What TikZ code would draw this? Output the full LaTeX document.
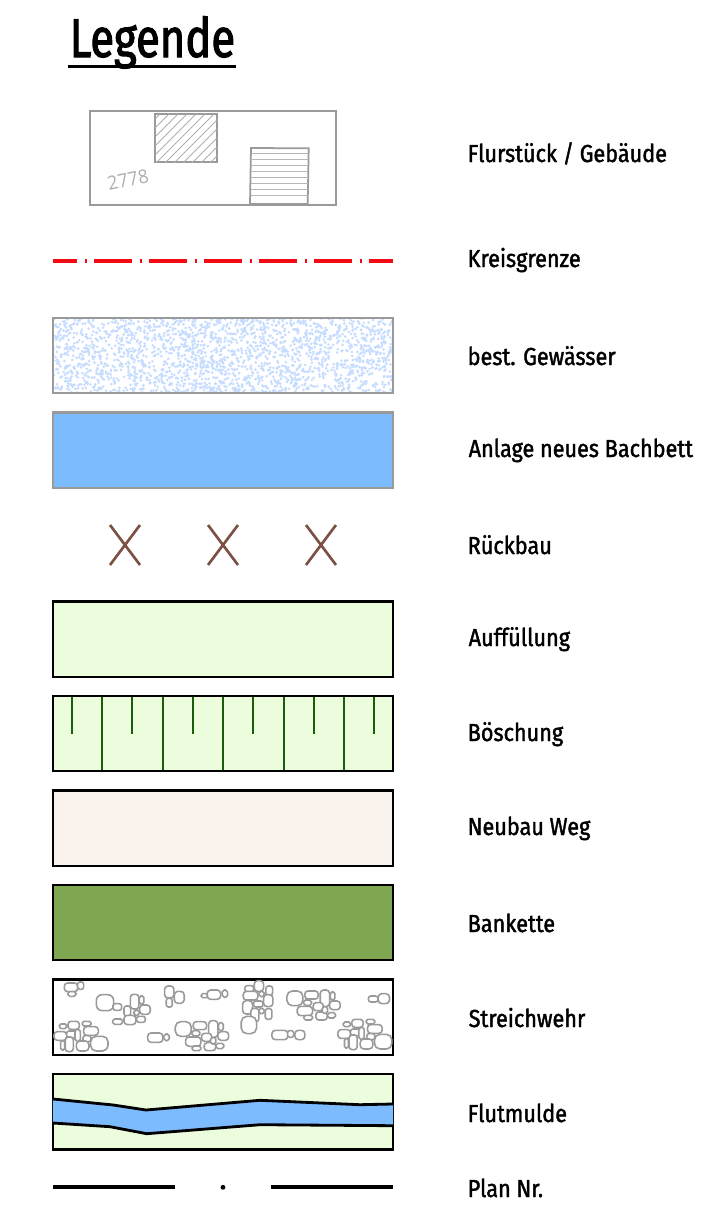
\documentclass[tikz,border=0pt]{standalone}
\usepackage{fontspec}
\setmainfont[FakeStretch=.88,FakeBold=1.6]{Fira Sans}
\newfontfamily\titlefont[FakeStretch=.8,FakeBold=2]{Fira Sans}
\newfontfamily\plotfont[FakeStretch=.95]{Open Sans}
\definecolor{frameGray}{HTML}{9A9A9A}
\definecolor{lineRed}{HTML}{F20A14}
\definecolor{stipple}{HTML}{C6DCFF}
\definecolor{waterBlue}{HTML}{7DBBFF}
\definecolor{crossBrown}{HTML}{7D5245}
\definecolor{fillGreen}{HTML}{EBFDDC}
\definecolor{tickGreen}{HTML}{1B5E0A}
\definecolor{wayBeige}{HTML}{FAF2EC}
\definecolor{bankGreen}{HTML}{7FA650}
\tikzset{
  legtext/.style={anchor=base west,inner sep=0pt,font=\fontsize{7}{8}\selectfont},
  parcel/.style={draw=frameGray,line width=.5pt},
  graybox/.style={draw=frameGray,line width=.7pt},
  blackbox/.style={draw=black,line width=.8pt},
  stone/.style={draw=frameGray,line width=.45pt,fill=white}
}
% one pile of stones: centre x/y, half width, half height
\newcommand{\stones}[1]{
  \foreach \x/\y/\a/\b in {#1}{
    \pgfmathsetmacro\r{min(\a,\b)*.07}
    \draw[stone,rounded corners=\r pt] (\x-\a,\y-\b) rectangle (\x+\a,\y+\b);
  }
}
\newcommand{\pileA}{\stones{765/85/24/22,815/75/20/12,855/85/14/25,878/78/7/12,803/98/12/8,885/106/16/13,795/123/23/14,835/110/15/12,845/138/17/12,875/136/12/8,805/143/13/7,855/120/8/10}}
\newcommand{\pileB}{\stones{921/163/11/7,953/160/17/12,992/155/13/7,1005/177/22/13,913/192/19/13,950/187/18/10,965/190/8/18,993/200/12/9,920/220/6/14,940/217/12/22,980/222/19/15,1030/215/26/22}}
\begin{document}
\begin{tikzpicture}
  \useasboundingbox (0,0) rectangle (7.16,-12.2);
  % title
  \node[anchor=base west,inner sep=0pt,font=\titlefont\fontsize{15.5}{17}\selectfont] (title) at (.69,-.57) {Legende};
  \draw[line width=1pt] (.68,-.667)--(2.36,-.667);
  % Flurstueck
  \draw[parcel] (.9,-1.11) rectangle (3.36,-2.05);
  \draw[parcel] (1.55,-1.14) rectangle (2.17,-1.62);
  \begin{scope}
    \clip (1.55,-1.14) rectangle (2.17,-1.62);
    \foreach \x in {0,...,14}
      \draw[frameGray!80,line width=.25pt] (.95+.09*\x,-1.7)--(1.65+.09*\x,-1.0);
  \end{scope}
  \draw[parcel] (2.51,-1.48)--(3.087,-1.483)--(3.077,-2.04)--(2.5,-2.04)--cycle;
  \foreach \y in {1.533,1.593,1.657,1.717,1.777,1.833,1.893,1.957}
    \draw[frameGray!70,line width=.35pt] (2.505,-\y)--(3.08,-\y);
  \node[inner sep=0pt,rotate=12,text=frameGray!80,font=\plotfont\fontsize{5.4}{6}\selectfont] (parcelno) at (1.28,-1.8) {2778};
  % Kreisgrenze
  \draw[lineRed,line width=1.1pt,dash pattern=on 10.81pt off 2.13pt on .57pt off 2.13pt,dash phase=3.9pt] (.53,-2.61)--(3.93,-2.61);
  % Gewaesser
  \begin{scope}
    \clip (.53,-3.18) rectangle (3.93,-3.93);
    \pgfmathsetseed{2778}
    \foreach \i in {1,...,2200}{
      \pgfmathsetmacro\xa{.53+3.4*rnd}
      \pgfmathsetmacro\ya{-3.18-.75*rnd}
      \fill[stipple] (\xa,\ya) circle (.0145);
    }
  \end{scope}
  \draw[graybox] (.53,-3.18) rectangle (3.93,-3.93);
  \draw[graybox,fill=waterBlue] (.53,-4.125) rectangle (3.93,-4.88);
  % Rueckbau
  \foreach \x in {1.25,2.23,3.21}
    \draw[crossBrown,line width=.75pt] (\x-.15,-5.25)--(\x+.15,-5.65) (\x-.15,-5.65)--(\x+.15,-5.25);
  % Auffuellung, Boeschung, Weg, Bankette
  \draw[blackbox,fill=fillGreen] (.53,-6.015) rectangle (3.93,-6.77);
  \draw[blackbox,fill=fillGreen] (.53,-6.96) rectangle (3.93,-7.71);
  \foreach \x in {1.02,1.627,2.23,2.837,3.44}
    \draw[tickGreen,line width=.5pt] (\x,-6.96)--(\x,-7.71);
  \foreach \x in {.72,1.323,1.93,2.533,3.14,3.743}
    \draw[tickGreen,line width=.5pt] (\x,-6.96)--(\x,-7.34);
  \draw[blackbox] (.53,-6.96) rectangle (3.93,-7.71);
  \draw[blackbox,fill=wayBeige] (.53,-7.905) rectangle (3.93,-8.66);
  \draw[blackbox,fill=bankGreen] (.53,-8.85) rectangle (3.93,-9.6);
  % Streichwehr
  \draw[blackbox,fill=white] (.53,-9.793) rectangle (3.93,-10.55);
  \begin{scope}[shift={(.4,-9.7)},x=.0948pt,y=-.0948pt]
    \stones{93/52/20/13,122/47/9/11,96/72/12/7}
    \stones{195/98/26/24,232/111/13/10,284/95/13/22,305/90/7/12,262/123/10/15,315/119/16/14,290/128/8/8,270/150/18/14,303/148/13/9,233/155/15/8}
    \stones{388/66/14/18,418/82/15/18,388/98/9/13}
    \stones{494/77/10/6,522/74/20/14,555/71/8/11}
    \stones{657/48/14/16,628/56/13/9,688/62/10/14,632/77/22/13,665/72/8/8,685/92/14/18,623/112/15/20,655/102/14/9,645/135/12/20,686/132/10/16,665/123/8/8,627/165/23/26}
    \pileA
    \stones{1000/87/14/9,1032/86/17/15}
    \pileB
    \begin{scope}[shift={(-852,6)}]\pileB\end{scope}
    \begin{scope}[shift={(-335,92)}]\pileA\end{scope}
    \stones{346/203/23/14,380/202/8/10}
    \stones{720/195/24/14,752/192/9/10,780/195/15/14}
  \end{scope}
  % Flutmulde
  \draw[blackbox,fill=fillGreen] (.53,-10.74) rectangle (3.93,-11.493);
  \fill[waterBlue] (.53,-10.99)--(1.133,-11.05)--(1.46,-11.1)--(2.6,-11.003)--(3.6,-11.047)--(3.93,-11.04)--(3.93,-11.257)--(2.6,-11.247)--(1.467,-11.337)--(1.1,-11.267)--(.53,-11.23)--cycle;
  \draw[line width=.8pt] (.53,-10.99)--(1.133,-11.05)--(1.46,-11.1)--(2.6,-11.003)--(3.6,-11.047)--(3.93,-11.04);
  \draw[line width=.8pt] (.53,-11.23)--(1.1,-11.267)--(1.467,-11.337)--(2.6,-11.247)--(3.93,-11.257);
  % Plan
  \draw[line width=1.15pt] (.53,-11.873)--(1.75,-11.873) (2.71,-11.873)--(3.93,-11.873);
  \fill (2.23,-11.873) circle (.024);
  % labels
  \node[legtext] (flur) at (4.67,-1.62) {Flurstück / Gebäude};
  \node[legtext] (kreis) at (4.67,-2.67) {Kreisgrenze};
  \node[legtext] (gew) at (4.67,-3.65) {best. Gewässer};
  \node[legtext] (bach) at (4.68,-4.57) {Anlage neues Bachbett};
  \node[legtext] (rueck) at (4.67,-5.54) {Rückbau};
  \node[legtext] (auff) at (4.68,-6.46) {Auffüllung};
  \node[legtext] (boesch) at (4.67,-7.41) {Böschung};
  \node[legtext] (weg) at (4.67,-8.35) {Neubau Weg};
  \node[legtext] (bank) at (4.67,-9.32) {Bankette};
  \node[legtext] (wehr) at (4.68,-10.27) {Streichwehr};
  \node[legtext] (mulde) at (4.67,-11.22) {Flutmulde};
  \node[legtext] (plan) at (4.67,-11.97) {Plan Nr.};
\end{tikzpicture}
\end{document}
